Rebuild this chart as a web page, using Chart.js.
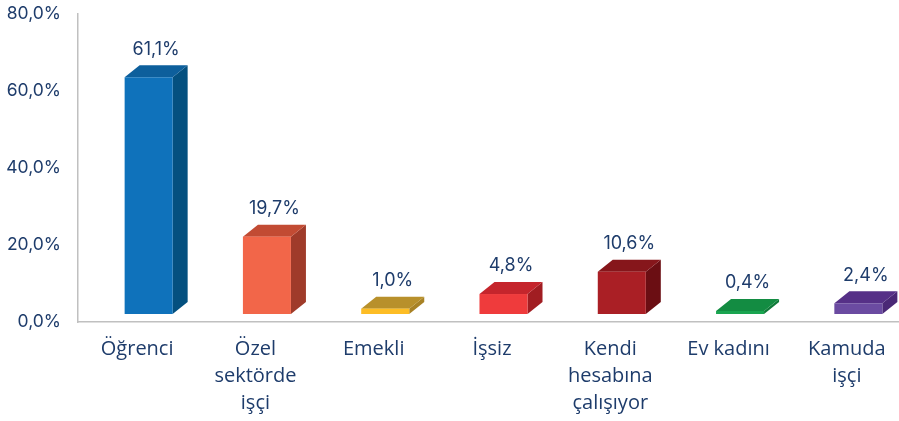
<!DOCTYPE html>
<html>
<head>
<meta charset="utf-8">
<script src="https://cdn.jsdelivr.net/npm/chart.js@4"></script>
<style>
  html, body { margin: 0; padding: 0; background: #fff; overflow: hidden; }
  .wrap { width: 906px; height: 421px; }
</style>
</head>
<body>
<div class="wrap"><canvas id="bar-chart"></canvas></div>
<script>
const categories = [
  "Öğrenci",
  ["Özel", "sektörde", "işçi"],
  "Emekli",
  "İşsiz",
  ["Kendi", "hesabına", "çalışıyor"],
  "Ev kadını",
  ["Kamuda", "işçi"],
];
const values = [61.1, 19.7, 1.0, 4.8, 10.6, 0.4, 2.4];
const yTicks = [0, 20, 40, 60, 80];

// front, top, side
const faces = [
  ["#0f72bb", "#0d5f9c", "#04507f"],
  ["#f26649", "#c24b33", "#9f3b2a"],
  ["#fdbd25", "#b8902b", "#a88225"],
  ["#ef3b3c", "#c5252c", "#a11d22"],
  ["#aa1f25", "#86161b", "#6b0e13"],
  ["#1aa550", "#138c42", "#0f7a39"],
  ["#6b4ba1", "#563087", "#4a2876"],
];

const navy = "#1e3c6b";
const fmt = (v) => v.toFixed(1).replace(".", ",") + "%";

const ctx = document.getElementById("bar-chart");
const config = {
  type: "bar",
  data: {
    labels: categories,
    datasets: [
      {
        data: values,
        backgroundColor: "rgba(0,0,0,0)",
        borderWidth: 0,
        barPercentage: 0.406,
        categoryPercentage: 1,
      },
    ],
  },
  options: {
    responsive: true,
    maintainAspectRatio: false,
    animation: false,
    events: [],
    layout: { padding: { top: 14, left: 0, right: 0, bottom: 0 } },
    plugins: { legend: { display: false }, tooltip: { enabled: false } },
    scales: {
      x: {
        grid: { display: false, drawTicks: false },
        border: { display: true, color: "#c0c0c0", width: 1.5 },
        ticks: {
          color: navy,
          padding: 14,
          maxRotation: 0,
          autoSkip: false,
          font: { family: "Open Sans", size: 20, lineHeight: 1.35 },
        },
        afterFit: (scale) => {
          scale.height = 99;
          scale.paddingTop = 0;
          scale.paddingBottom = 0;
        },
      },
      y: {
        min: 0,
        max: 80,
        afterBuildTicks: (scale) => { scale.ticks = yTicks.map((v) => ({ value: v })); },
        grid: { display: false, drawTicks: false },
        border: { display: true, color: "#c0c0c0", width: 1.5 },
        ticks: {
          color: navy,
          padding: 17,
          font: { family: "Inter", size: 17.5 },
          callback: (v) => fmt(v),
        },
        afterFit: (scale) => {
          scale.width = 78;
          scale.paddingTop = 0;
          scale.paddingBottom = 0;
        },
      },
    },
  },
  plugins: [
    {
      afterDatasetsDraw: (chart) => {
        const c = chart.ctx;
        const dx = 15, dy = 12;
        chart.getDatasetMeta(0).data.forEach((bar, i) => {
          const w = bar.width;
          const fl = bar.x - w / 2 + 11.5;
          const fr = fl + w;
          const top = bar.y - 9.5;
          const bottom = bar.base - 8;
          const [front, topC, side] = faces[i];

          c.save();
          // side
          c.fillStyle = side;
          c.beginPath();
          c.moveTo(fr, top);
          c.lineTo(fr + dx, top - dy);
          c.lineTo(fr + dx, bottom - dy);
          c.lineTo(fr, bottom);
          c.closePath();
          c.fill();
          // top
          c.fillStyle = topC;
          c.beginPath();
          c.moveTo(fl, top);
          c.lineTo(fl + dx, top - dy);
          c.lineTo(fr + dx, top - dy);
          c.lineTo(fr, top);
          c.closePath();
          c.fill();
          // front
          c.fillStyle = front;
          c.fillRect(fl, top, w, bottom - top);

          // value label
          c.fillStyle = navy;
          c.font = "18px Inter";
          c.textAlign = "center";
          c.textBaseline = "middle";
          c.fillText(fmt(values[i]), fl + (w + dx) / 2, top - dy - 16);
          c.restore();
        });
      },
    },
  ],
};

const barChart = new Chart(ctx, config);
</script>
</body>
</html>
